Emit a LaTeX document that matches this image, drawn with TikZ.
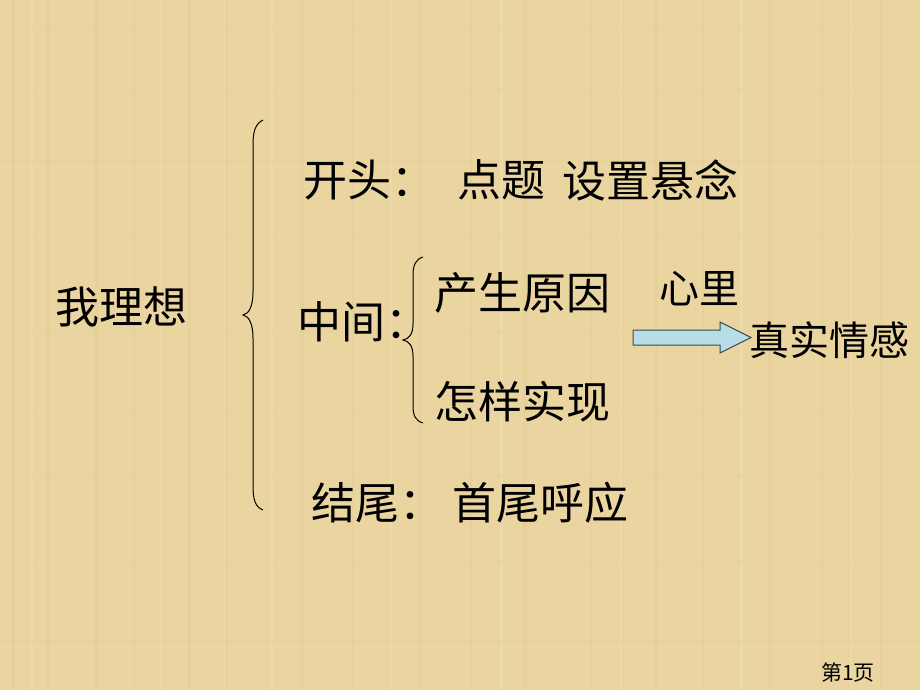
\documentclass[tikz,border=0pt]{standalone}
\usepackage{fontspec}
\newfontfamily\cjk{Noto Sans CJK SC}
\definecolor{paper}{RGB}{234,213,160}
\definecolor{paperdark}{RGB}{220,194,136}
\definecolor{paperlight}{RGB}{242,226,185}
\definecolor{arrowfill}{RGB}{183,222,232}
\definecolor{arrowline}{RGB}{60,70,80}
\tikzset{
  big/.style={font=\cjk\fontsize{44}{50}\selectfont, inner sep=0pt, anchor=west, text=black},
  mid/.style={font=\cjk\fontsize{40}{46}\selectfont, inner sep=0pt, anchor=west, text=black},
  foot/.style={font=\cjk\fontsize{21}{24}\selectfont, inner sep=0pt, anchor=west, text=black},
  bracepath/.style={draw=black, line width=1pt},
}
\begin{document}
\begin{tikzpicture}[x=1pt,y=-1pt]
\fill[paper] (0,0) rectangle (920,690);
\useasboundingbox (0,0) rectangle (920,690);
% faint texture
\foreach \xx/\w in {12/3,47/2,95/4,133/2,188/3,226/2,300/4,352/2,418/3,470/2,523/4,590/2,655/3,702/2,768/4,821/2,880/3}
  \fill[paperdark, opacity=0.18] (\xx,0) rectangle (\xx+\w,690);
\foreach \xx/\w in {30/3,160/2,270/3,390/2,500/3,620/2,740/3,850/2}
  \fill[paperlight, opacity=0.35] (\xx,0) rectangle (\xx+\w,690);
\foreach \yy/\h in {25/3,88/2,160/3,235/2,330/3,410/2,475/3,560/2,640/3}
  \fill[paperdark, opacity=0.12] (0,\yy) rectangle (920,\yy+\h);

\node[big] (root) at (55,307) {我理想};

% big brace
\draw[bracepath] (263,120) .. controls (255,124) and (253,132) .. (253,145)
  -- (253,292) .. controls (253,306) and (249,314) .. (243,315)
  .. controls (249,316) and (253,324) .. (253,338)
  -- (253,486) .. controls (253,499) and (255,507) .. (263,510);

\node[big] (kt) at (303,180) {开头：};
\node[big] (dt) at (457,180) {点题};
\node[big] (sz) at (562,180) {设置悬念};

\node[big] (zj) at (297,322) {中间：};

% small brace
\draw[bracepath] (423,257) .. controls (416,259) and (413,265) .. (413,275)
  -- (413,324) .. controls (413,334) and (409,339) .. (403,340)
  .. controls (409,341) and (413,346) .. (413,356)
  -- (413,406) .. controls (413,416) and (416,421) .. (423,423);

\node[big] (cs) at (434,293) {产生原因};
\node[mid] (xl) at (659,289) {心里};
\node[big] (zy) at (434,402) {怎样实现};
\node[mid] (zs) at (749,340) {真实情感};

% block arrow
\draw[fill=arrowfill, draw=arrowline, line width=1pt]
  (633,330) -- (720,330) -- (720,322) -- (751,337.5) -- (720,353) -- (720,345) -- (633,345) -- cycle;

\node[big] (jw) at (311,503) {结尾：};
\node[big] (sw) at (452,503) {首尾呼应};

\node[foot] (pg) at (821,672) {第1页};
\end{tikzpicture}
\end{document}
